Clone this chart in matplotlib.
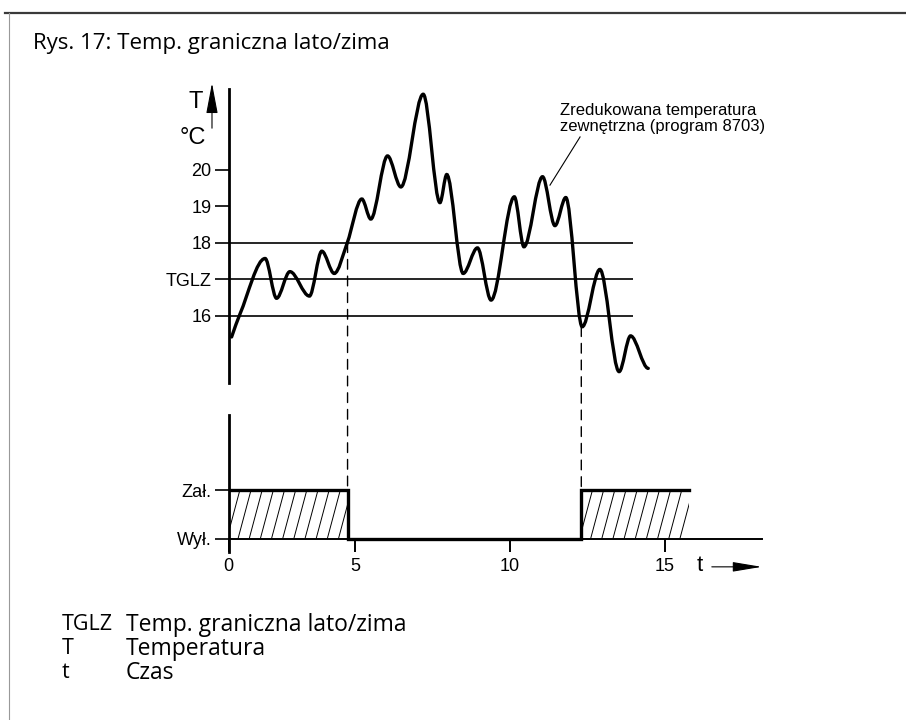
import numpy as np
import matplotlib
matplotlib.use('Agg')
import matplotlib.pyplot as plt
from matplotlib.path import Path
from matplotlib.patches import PathPatch, Rectangle, ConnectionPatch
from matplotlib.collections import LineCollection
from matplotlib.lines import Line2D

plt.rcParams['font.family'] = 'Liberation Sans'

# reduced outdoor temperature: turning points of the curve (time, degC)
curve_t = [1.02, 1.29, 2.10, 2.47, 2.90, 3.53, 3.93, 4.33, 4.75, 5.22, 5.51, 6.05,
           6.48, 7.20, 7.74, 7.96, 8.49, 8.95, 9.39, 10.14, 10.45, 11.05, 11.45,
           11.80, 12.33, 12.90, 13.52, 13.89, 14.46]
curve_T = [15.42, 16.05, 17.57, 16.48, 17.21, 16.54, 17.77, 17.16, 18.00, 19.20, 18.65, 20.38,
           19.53, 22.07, 19.10, 19.87, 17.16, 17.86, 16.43, 19.26, 17.89, 19.81, 18.47,
           19.24, 15.70, 17.27, 14.47, 15.45, 14.56]

limit_lines = [16, 17, 18]
temp_ticks = [16, 17, 18, 19, 20]
temp_labels = ['16', 'TGLZ', '18', '19', '20']

# heating on/off state
state_t = [0.926, 4.76, 12.30, 15.78]
state_v = [1, 0, 1, 1]
switch_T = [18.0, 15.70]
state_ticks = [0, 1]
state_labels = ['Wył.', 'Zał.']

time_ticks = [0.926, 5, 10, 15]
time_labels = ['0', '5', '10', '15']

legend_keys = ['TGLZ', 'T', 't']
legend_texts = ['Temp. graniczna lato/zima', 'Temperatura', 'Czas']

W, H = 906, 720
T0, T1 = 0.926, 19.355


def smooth_path(x, y):
    # cubic Bezier through the points, flat tangents at peaks and troughs
    x = np.asarray(x, float)
    y = np.asarray(y, float)
    n = len(x)
    m = np.zeros(n)
    for i in range(1, n - 1):
        if (y[i] - y[i - 1]) * (y[i + 1] - y[i]) > 0:
            m[i] = (y[i + 1] - y[i - 1]) / (x[i + 1] - x[i - 1])
    m[0] = (y[1] - y[0]) / (x[1] - x[0])
    m[-1] = 0
    verts = [(x[0], y[0])]
    codes = [Path.MOVETO]
    for i in range(n - 1):
        h = (x[i + 1] - x[i]) / 3
        verts += [(x[i] + h, y[i] + m[i] * h),
                  (x[i + 1] - h, y[i + 1] - m[i + 1] * h),
                  (x[i + 1], y[i + 1])]
        codes += [Path.CURVE4] * 3
    return Path(verts, codes)


fig = plt.figure(figsize=(W / 100, H / 100), dpi=100)

# frame
fig.add_artist(Line2D([5 / W, 1], [1 - 12.7 / H] * 2, color='#3a3a3a', lw=1.6))
fig.add_artist(Line2D([9 / W] * 2, [0, 1 - 12.7 / H], color='#999999', lw=0.8))

fig.text(33 / W, 1 - 43 / H, 'Rys. 17: Temp. graniczna lato/zima', ha='left', va='center',
         fontsize=16, family='Open Sans')

# temperature panel
ax_t = fig.add_axes([228.7 / W, 1 - 395 / H, 571.3 / W, 315 / H])
ax_t.set_xlim(T0, T1)
ax_t.set_ylim(13.83, 22.46)
ax_t.patch.set_visible(False)
for s in ['top', 'right', 'bottom']:
    ax_t.spines[s].set_visible(False)
ax_t.spines['left'].set_bounds(14.15, 22.2)
ax_t.spines['left'].set_linewidth(2)
ax_t.set_xticks([])
ax_t.set_yticks(temp_ticks, temp_labels)
ax_t.tick_params(axis='y', length=10, width=1.2, pad=2.4, labelsize=13)

ax_t.hlines(limit_lines, T0, 13.98, color='black', lw=1.2)
ax_t.add_patch(PathPatch(smooth_path(curve_t, curve_T), facecolor='none', edgecolor='black',
                         lw=2.4, capstyle='round', zorder=3))

ax_t.text(11.61, 21.40, 'Zredukowana temperatura\nzewnętrzna (program 8703)', ha='left',
          va='center', fontsize=12, linespacing=1.1)
ax_t.plot([11.29, 12.26], [19.58, 20.90], color='black', lw=0.8)

ax_t.text(-0.13, 21.85, 'T', ha='center', va='center', fontsize=17, clip_on=False)
ax_t.text(-0.23, 20.87, '°C', ha='center', va='center', fontsize=17, clip_on=False)
ax_t.annotate('', xy=(0.387, 22.375), xytext=(0.387, 21.14), annotation_clip=False,
              arrowprops=dict(arrowstyle='-|>,head_length=1.9,head_width=0.36',
                              mutation_scale=10, lw=0.8, color='black',
                              shrinkA=0, shrinkB=0))

# heating state panel
ax_s = fig.add_axes([228.7 / W, 1 - 590 / H, 571.3 / W, 195 / H])
ax_s.set_xlim(T0, T1)
ax_s.set_ylim(-1.05, 2.95)
ax_s.patch.set_visible(False)
for s in ['top', 'right']:
    ax_s.spines[s].set_visible(False)
ax_s.spines['left'].set_bounds(-0.27, 2.55)
ax_s.spines['left'].set_linewidth(2)
ax_s.spines['bottom'].set_position(('data', 0))
ax_s.spines['bottom'].set_bounds(T0, 18.12)
ax_s.spines['bottom'].set_linewidth(1.4)
ax_s.set_xticks(time_ticks, time_labels)
ax_s.tick_params(axis='x', length=9.6, width=1.4, pad=4, labelsize=13)
ax_s.set_yticks(state_ticks, state_labels)
ax_s.tick_params(axis='y', length=10, width=1.2, pad=2.5, labelsize=13)

ax_s.step(state_t, state_v, where='post', color='black', lw=2.4, zorder=4,
          solid_joinstyle='miter')

spacing, slant = 0.36, 0.42
for i in range(len(state_t) - 1):
    if state_v[i] != 1:
        continue
    a, b = state_t[i], state_t[i + 1]
    box = Rectangle((a, 0), b - a, 1, facecolor='none', edgecolor='none')
    ax_s.add_patch(box)
    xs = np.arange(a - slant, b + spacing, spacing)
    lc = LineCollection([[(x, 0), (x + slant, 1)] for x in xs], colors='black', lw=0.7)
    ax_s.add_collection(lc)
    lc.set_clip_path(box)

for t, T in zip(state_t[1:3], switch_T):
    fig.add_artist(ConnectionPatch(xyA=(t, T), coordsA=ax_t.transData, xyB=(t, 1),
                                   coordsB=ax_s.transData, color='black', lw=1,
                                   linestyle=(0, (7, 5))))

ax_s.text(16.13, -0.55, 't', ha='center', va='center', fontsize=16)
ax_s.annotate('', xy=(18.12, -0.575), xytext=(16.51, -0.575), annotation_clip=False,
              arrowprops=dict(arrowstyle='-|>,head_length=1.8,head_width=0.3',
                              mutation_scale=10, lw=0.8, color='black',
                              shrinkA=0, shrinkB=0))

# legend rows below the chart
for i, (k, d) in enumerate(zip(legend_keys, legend_texts)):
    y = 1 - (625 + 24 * i) / H
    fig.text(62 / W, y, k, ha='left', va='center', fontsize=15.5, family='Open Sans')
    fig.text(126 / W, y, d, ha='left', va='center', fontsize=16.5, family='Open Sans')

fig.savefig('out.png', dpi=100)
